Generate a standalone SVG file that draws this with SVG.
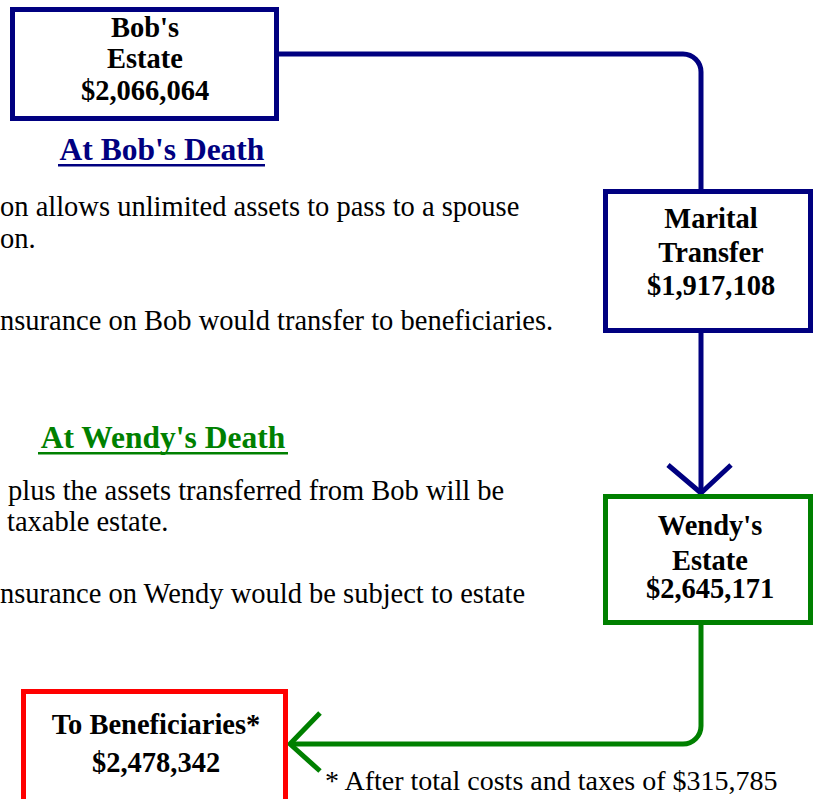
<svg xmlns="http://www.w3.org/2000/svg" width="815" height="799" viewBox="0 0 815 799">
<style>
.box{fill:#fff;stroke-width:5}
.bt{font-family:"Liberation Serif","Times New Roman",serif;font-weight:bold;font-size:28.5px;fill:#000;text-anchor:middle}
.body{font-family:"Liberation Serif","Times New Roman",serif;font-size:28.5px;fill:#000}
.head{font-family:"Liberation Serif","Times New Roman",serif;font-weight:bold;font-size:31.5px;text-anchor:middle}
.con{fill:none;stroke-width:5;stroke-linejoin:round}
</style>
<rect width="815" height="799" fill="#fff"/>
<g id="connectors">
<path class="con" stroke="#000080" d="M279 54H683A18 18 0 0 1 701 72V189"/>
<path class="con" stroke="#000080" d="M701 333V492"/>
<path class="con" stroke="#000080" d="M668 465L701 493L731 465"/>
<path class="con" stroke="#008000" d="M701 625V726A18 18 0 0 1 683 744H290"/>
<path class="con" stroke="#008000" d="M320 713L290 744L320 771"/>
</g>
<g id="bob-estate">
<rect class="box" stroke="#000080" x="12.5" y="9.5" width="264" height="109"/>
<text class="bt" x="145" y="37">Bob's</text>
<text class="bt" x="145" y="68">Estate</text>
<text class="bt" x="145" y="100">$2,066,064</text>
</g>
<g id="marital-transfer">
<rect class="box" stroke="#000080" x="605.5" y="191.5" width="205" height="139"/>
<text class="bt" x="711" y="228">Marital</text>
<text class="bt" x="711" y="262">Transfer</text>
<text class="bt" x="711" y="295">$1,917,108</text>
</g>
<g id="wendy-estate">
<rect class="box" stroke="#008000" x="605.5" y="496.5" width="205" height="126"/>
<text class="bt" x="710" y="535">Wendy's</text>
<text class="bt" x="710" y="570">Estate</text>
<text class="bt" x="710" y="598">$2,645,171</text>
</g>
<g id="beneficiaries">
<rect class="box" stroke="#ff0000" x="23.5" y="691.5" width="262" height="130"/>
<text class="bt" x="156" y="734">To Beneficiaries*</text>
<text class="bt" x="156" y="772">$2,478,342</text>
</g>
<g id="bob-death-text">
<text class="head" x="162" y="160" fill="#000080">At Bob's Death</text>
<rect x="58" y="164" width="207" height="2.5" fill="#000080"/>
<text class="body" x="0" y="216">on allows unlimited assets to pass to a spouse</text>
<text class="body" x="0" y="248">on.</text>
<text class="body" x="0" y="330">nsurance on Bob would transfer to beneficiaries.</text>
</g>
<g id="wendy-death-text">
<text class="head" x="163" y="448" fill="#008000">At Wendy's Death</text>
<rect x="38" y="452" width="250" height="2.5" fill="#008000"/>
<text class="body" x="8" y="500">plus the assets transferred from Bob will be</text>
<text class="body" x="7" y="531">taxable estate.</text>
<text class="body" x="0" y="603">nsurance on Wendy would be subject to estate</text>
</g>
<g id="footnote">
<text class="body" x="325" y="790" style="font-size:28px">* After total costs and taxes of $315,785</text>
</g>
</svg>
